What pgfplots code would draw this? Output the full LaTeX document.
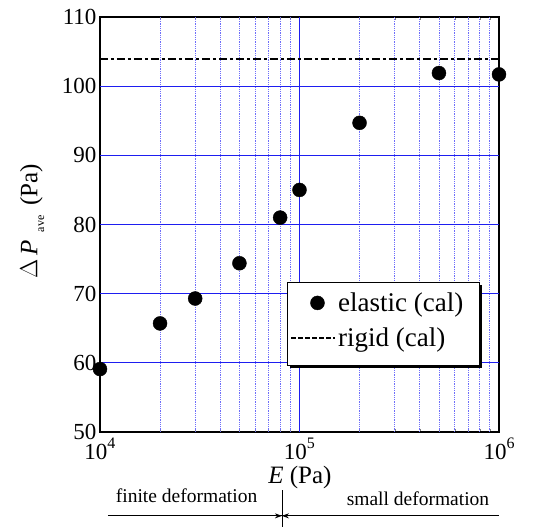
\documentclass[border=0pt]{standalone}
\usepackage{fontspec}
\setmainfont{Liberation Serif}
\usepackage{pgfplots}
\pgfplotsset{compat=1.18}
\usetikzlibrary{arrows.meta}
\definecolor{gridblue}{RGB}{30,30,240}
\definecolor{minorblue}{RGB}{110,110,250}

\begin{document}
\begin{tikzpicture}
\begin{axis}[
  scale only axis, width=399pt, height=415pt,
  xmode=log, xmin=1e4, xmax=1e6, ymin=50, ymax=110,
  ytick={50,60,70,80,90,100,110},
  xtick={1e4,1e5,1e6},
  xticklabels={10\raisebox{1.1ex}{\fontsize{16}{16}\selectfont 4},10\raisebox{1.1ex}{\fontsize{16}{16}\selectfont 5},10\raisebox{1.1ex}{\fontsize{16}{16}\selectfont 6}},
  minor xtick={},
  major tick length=8pt,
  major tick style={color=black, line width=1pt},
  axis line style={line width=1.5pt},
  tick label style={font=\fontsize{23}{23}\selectfont},
  xticklabel style={yshift=-2pt},
  /pgf/number format/assume math mode=true,
  clip=false,
  xlabel={\textit{E} (Pa)},
  ylabel={$\Delta$\,\textit{P}\raisebox{-0.6ex}{\hspace{8pt}\fontsize{12}{12}\selectfont ave}\hspace{10pt}(Pa)},
  label style={font=\fontsize{25}{25}\selectfont},
  xlabel style={at={(rel axis cs:0.501,-0.123)}, anchor=base},
  ylabel style={at={(rel axis cs:-0.17,0.508)}, anchor=center},
  legend style={at={(rel axis cs:0.47,0.348)}, anchor=north west, draw=none, fill=none,
    font=\fontsize{27}{29}\selectfont,
    inner xsep=3pt, inner ysep=3pt, row sep=11pt},
  legend cell align=left,
]
% grid
\pgfplotsinvokeforeach{2e4,3e4,4e4,5e4,6e4,7e4,8e4,9e4,2e5,3e5,4e5,5e5,6e5,7e5,8e5,9e5}{
  \draw[minorblue, densely dotted, line width=0.8pt] (axis cs:#1,50) -- (axis cs:#1,110);
}
\pgfplotsinvokeforeach{60,70,80,90,100}{
  \draw[gridblue, line width=1pt] (axis cs:1e4,#1) -- (axis cs:1e6,#1);
}
\draw[gridblue, line width=1.4pt] (axis cs:1e5,50) -- (axis cs:1e5,110);

\addplot[only marks, mark=*, mark size=7pt, black,
  legend image code/.code={\path[draw=none] (0pt,0pt) -- (44pt,0pt); \fill[black] (26pt,0pt) circle (7pt);}]
  coordinates {(1e4,59.1) (2e4,65.7) (3e4,69.3) (5e4,74.4) (8e4,81.0) (1e5,85.0) (2e5,94.7) (5e5,101.9) (1e6,101.7)};
\addlegendentry{elastic (cal)}
\addplot[black, line width=2pt, dash pattern=on 8pt off 3pt on 3pt off 3pt,
  legend image code/.code={\draw[black, line width=1.5pt, dash pattern=on 5pt off 2pt] (0pt,0pt) -- (44pt,0pt);}]
  coordinates {(1e4,104) (1e6,104)};
\addlegendentry{rigid (cal)}

% legend frame with shadow
\fill[black] ([xshift=3pt,yshift=-3pt]rel axis cs:0.469,0.361) rectangle ([xshift=3pt,yshift=-3pt]rel axis cs:0.950,0.161);
\filldraw[fill=white, draw=black, line width=1pt] (rel axis cs:0.469,0.361) rectangle (rel axis cs:0.950,0.161);

\draw[line width=0.8pt] (rel axis cs:0.02,-0.202) -- (rel axis cs:1,-0.202);
\draw[line width=0.8pt] (rel axis cs:0.456,-0.14) -- (rel axis cs:0.456,-0.229);
\draw[line width=0.8pt, -{Stealth[length=7pt,width=5pt]}] (rel axis cs:0.43,-0.202) -- (rel axis cs:0.456,-0.202);
\draw[line width=0.8pt, -{Stealth[length=7pt,width=5pt]}] (rel axis cs:0.482,-0.202) -- (rel axis cs:0.456,-0.202);
\node[font=\fontsize{19.5}{19.5}\selectfont, anchor=base] at (rel axis cs:0.217,-0.169) {finite deformation};
\node[font=\fontsize{19.5}{19.5}\selectfont, anchor=base] at (rel axis cs:0.797,-0.178) {small deformation};

\coordinate (bbl) at (rel axis cs:-0.2506,-0.2289);
\coordinate (btr) at (rel axis cs:1.1053,1.041);
\end{axis}
\pgfresetboundingbox
\useasboundingbox (bbl) rectangle (btr);
\end{tikzpicture}
\end{document}
